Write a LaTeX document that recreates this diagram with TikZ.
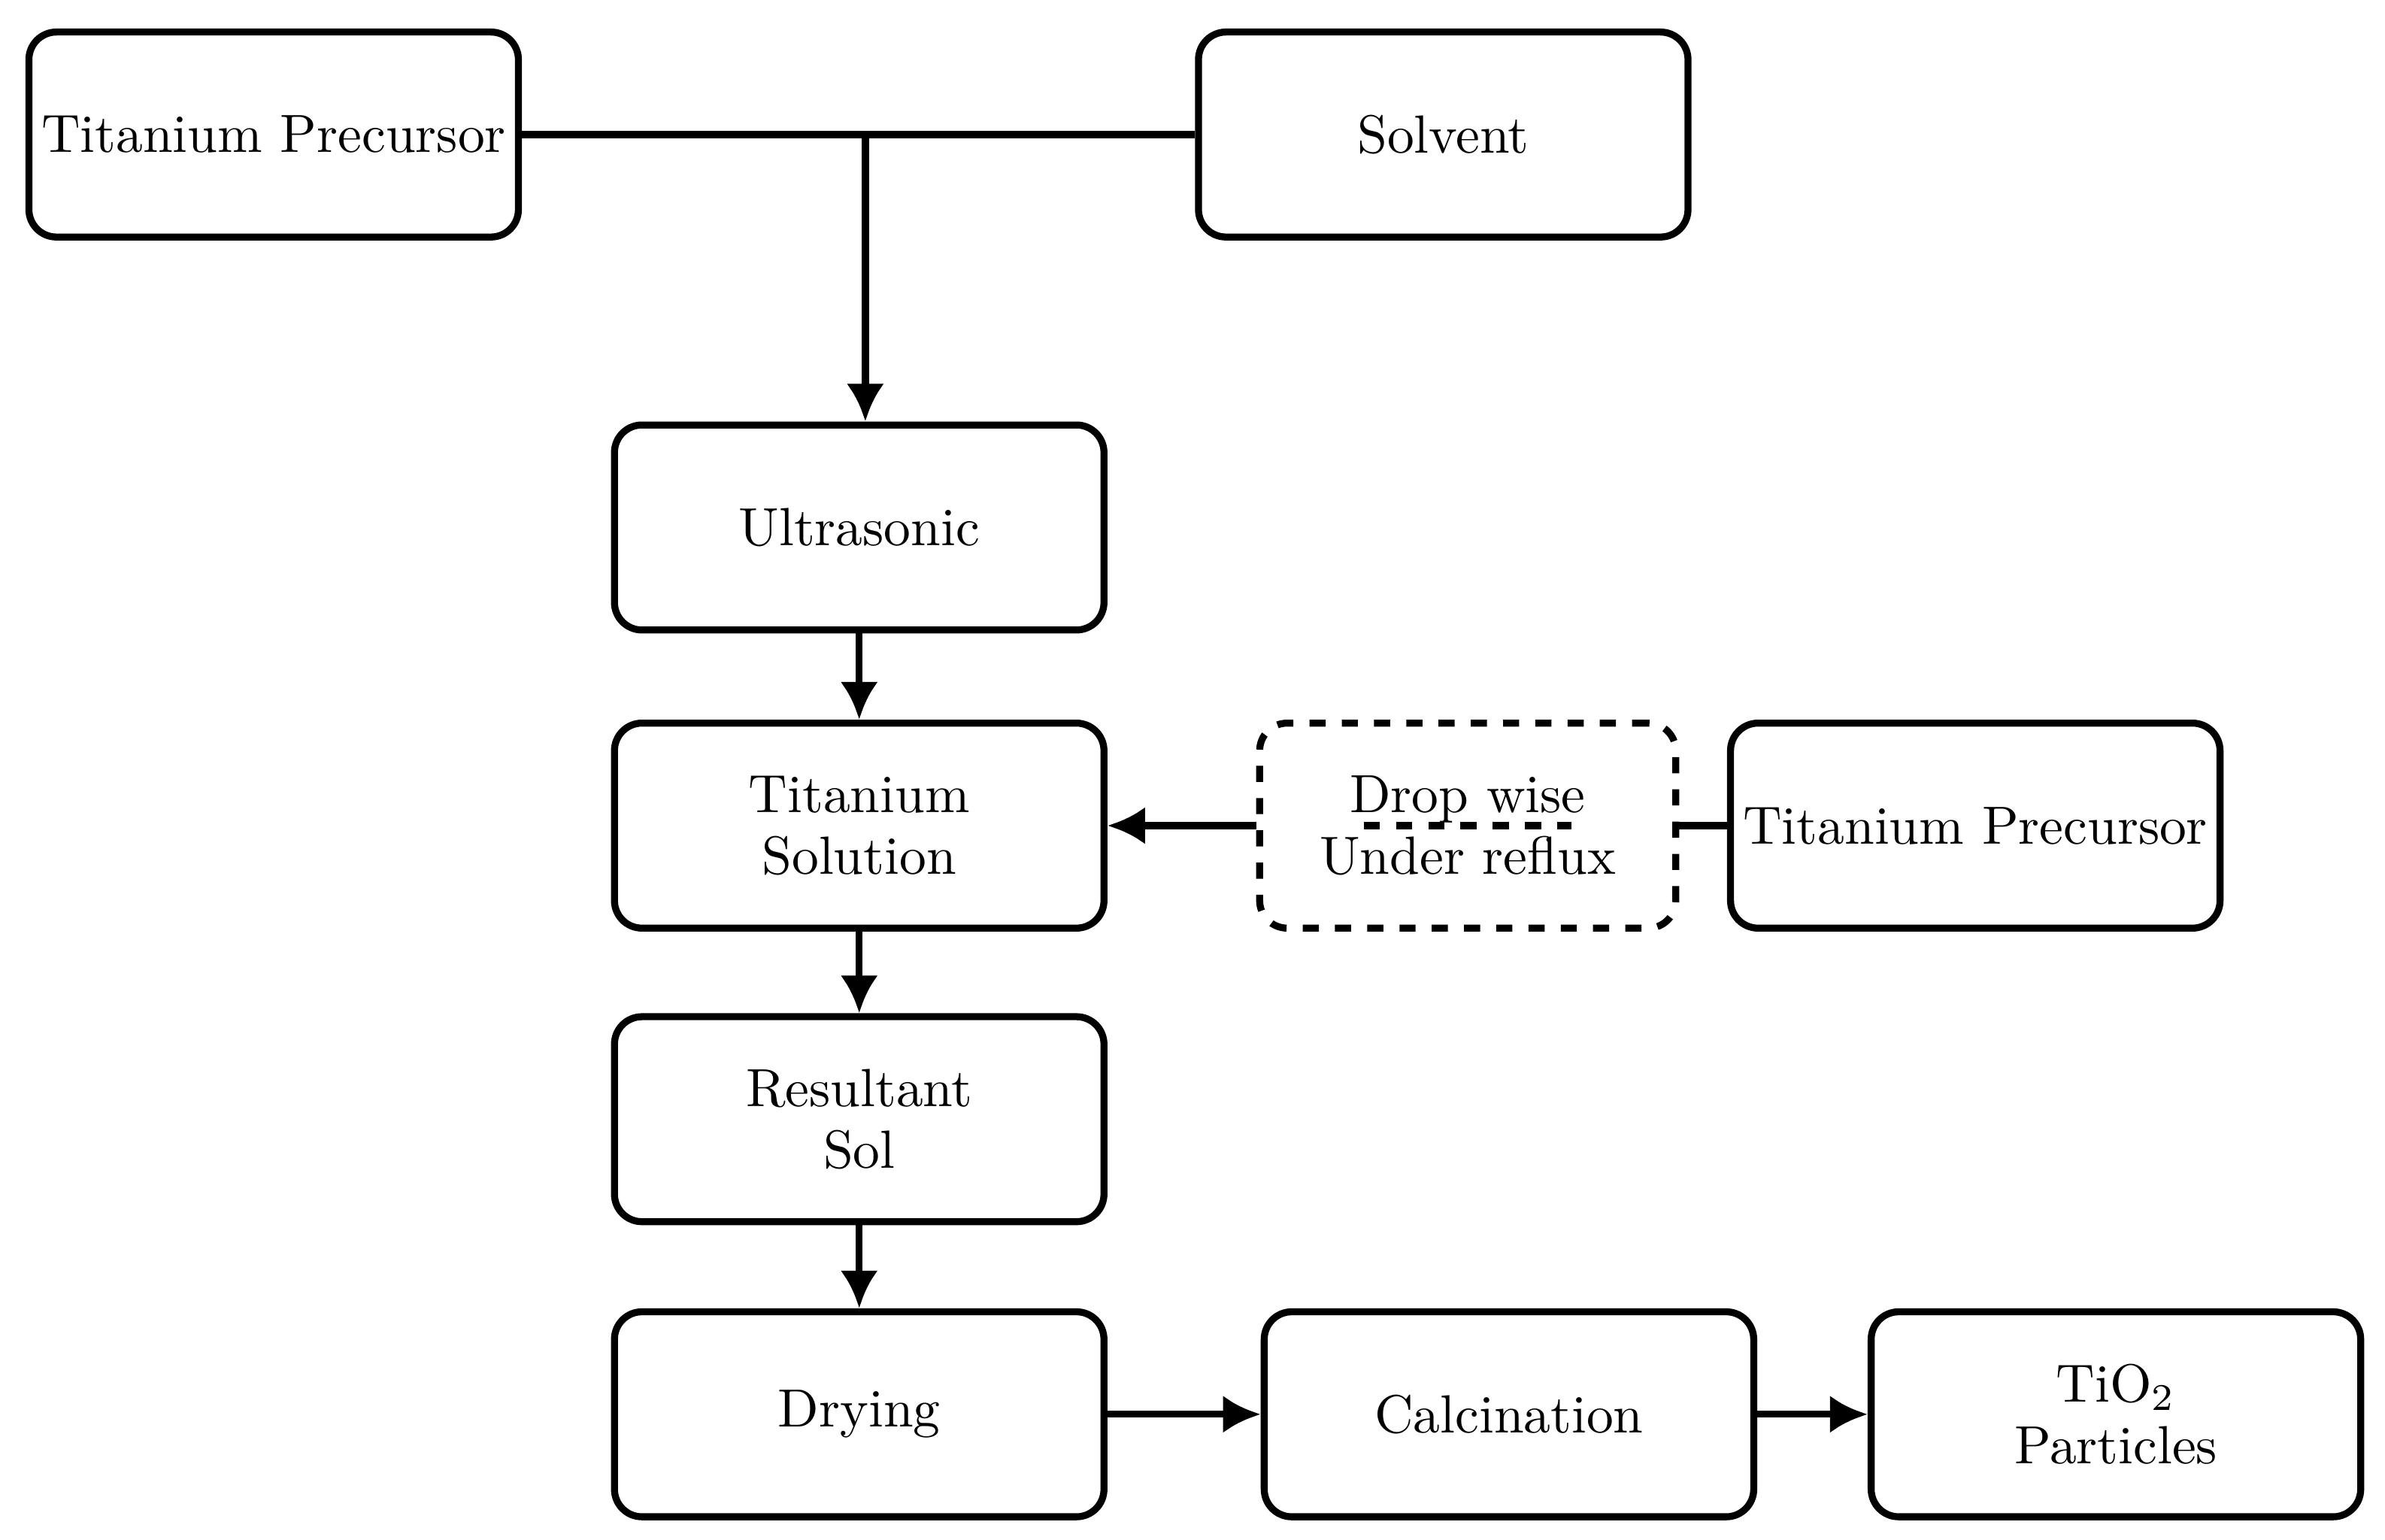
\documentclass[tikz,border=0pt]{standalone}
\usetikzlibrary{arrows.meta}
\begin{document}
\begin{tikzpicture}[x=0.01cm,y=-0.01cm,
 box/.style={draw,line width=1.3pt,rounded corners=0.18cm,minimum width=3.2cm,minimum height=1.34cm,align=center,font=\fontsize{10}{11.5}\selectfont,inner sep=0pt},
 dbox/.style={box,dashed,minimum width=2.72cm},
 arr/.style={line width=1.3pt,-{Latex[length=7pt,width=7pt]}},
 ln/.style={line width=1.3pt}]
\useasboundingbox (0,0) rectangle (1560,1007);
\node[box] (tp) at (179,88) {Titanium Precursor};
\node[box] (sol) at (944,88) {Solvent};
\node[box] (us) at (562,345) {Ultrasonic};
\node[box] (ts) at (562,540) {Titanium\\Solution};
\node[dbox] (dw) at (960,540) {Drop wise\\Under reflux};
\node[box] (tp2) at (1292,540) {Titanium Precursor};
\node[box] (rs) at (562,732) {Resultant\\Sol};
\node[box] (dr) at (562,925) {Drying};
\node[box] (ca) at (987,925) {Calcination};
\node[box] (ti) at (1384,925) {TiO$_2$\\Particles};
\coordinate (j) at (566,88);
\draw[ln] (tp.east) -- (sol.west);
\draw[arr] (j) -- (j |- us.north);
\draw[arr] (us) -- (ts);
\draw[arr] (ts) -- (rs);
\draw[arr] (rs) -- (dr);
\draw[arr] (dw) -- (ts);
\draw[ln] (tp2) -- (dw);
\draw[arr] (dr) -- (ca);
\draw[arr] (ca) -- (ti);
\coordinate (u1) at (892,540);
\coordinate (u2) at (1028,540);
\draw[ln,dashed] (u1) -- (u2);
\end{tikzpicture}
\end{document}
